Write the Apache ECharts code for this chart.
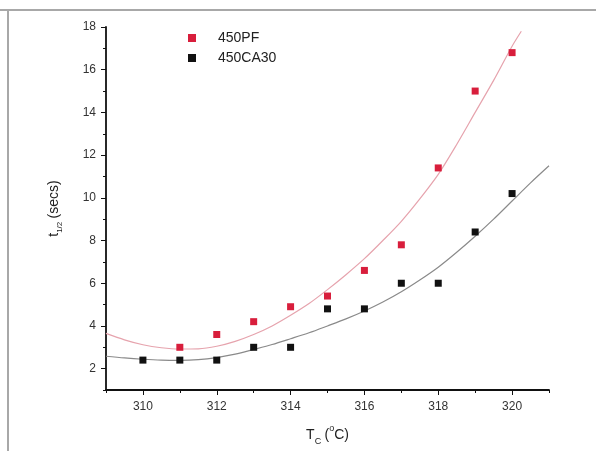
<!DOCTYPE html>
<html>
<head>
<meta charset="utf-8">
<script src="https://cdn.jsdelivr.net/npm/echarts@6/dist/echarts.min.js"></script>
<style>
html,body{margin:0;padding:0;background:#fff;}
#chart{width:596px;height:451px;}
</style>
</head>
<body>
<div id="chart"></div>
<script>
// Measured points
const pfX = [311, 312, 313, 314, 315, 316, 317, 318, 319, 320];
const pfY = [3.0, 3.6, 4.2, 4.9, 5.4, 6.6, 7.8, 11.4, 15.0, 16.8];
const caX = [310, 311, 312, 313, 314, 315, 316, 317, 318, 319, 320];
const caY = [2.4, 2.4, 2.4, 3.0, 3.0, 4.8, 4.8, 6.0, 6.0, 8.4, 10.2];

// Fitted curves
const pfFitX = [309, 309.5, 310, 310.5, 311, 311.5, 312, 312.5, 313, 313.5, 314, 314.5, 315, 315.5, 316, 316.5, 317, 317.5, 318, 318.5, 319, 319.5, 320, 320.25];
const pfFitY = [3.65, 3.35, 3.12, 2.98, 2.92, 2.93, 3.05, 3.28, 3.6, 4.0, 4.5, 5.05, 5.7, 6.4, 7.15, 8.0, 8.9, 9.95, 11.1, 12.5, 14.0, 15.5, 17.1, 17.8];
const caFitX = [309, 309.5, 310, 310.5, 311, 311.5, 312, 312.5, 313, 313.5, 314, 314.5, 315, 315.5, 316, 316.5, 317, 317.5, 318, 318.5, 319, 319.5, 320, 320.5, 321];
const caFitY = [2.58, 2.5, 2.44, 2.4, 2.39, 2.42, 2.52, 2.68, 2.9, 3.13, 3.4, 3.68, 4.0, 4.33, 4.7, 5.12, 5.6, 6.15, 6.75, 7.45, 8.2, 9.0, 9.85, 10.7, 11.5];

// Tick values
const xMajor = [310, 312, 314, 316, 318, 320];
const xMinor = [309, 311, 313, 315, 317, 319, 321];
const yMajor = [2, 4, 6, 8, 10, 12, 14, 16, 18];
const yMinor = [1, 3, 5, 7, 9, 11, 13, 15, 17];

const zip = (xs, ys) => xs.map((x, i) => [x, ys[i]]);
const FONT = 'Liberation Sans, Arial, sans-serif';
const axisCol = '#111';

const chart = echarts.init(document.getElementById('chart'), null, {renderer: 'canvas'});
chart.setOption({
  animation: false,
  backgroundColor: '#fff',
  textStyle: {fontFamily: FONT},
  grid: {left: 106, right: 47, top: 27, bottom: 60, containLabel: false},
  legend: {
    orient: 'vertical',
    left: 183, top: 26,
    itemWidth: 8, itemHeight: 8, itemGap: 6,
    icon: 'rect',
    data: ['450PF', '450CA30'],
    textStyle: {fontFamily: FONT, fontSize: 14, color: '#222', padding: [0, 0, 0, 17]}
  },
  xAxis: [{
    type: 'value', min: 309, max: 321, interval: 1,
    position: 'bottom',
    axisLine: {show: true, lineStyle: {color: axisCol, width: 1.8}},
    axisTick: {show: true, length: 5, customValues: xMajor, lineStyle: {color: axisCol}},
    axisLabel: {customValues: xMajor, fontSize: 12, color: '#333', margin: 11, fontFamily: FONT},
    splitLine: {show: false},
    name: '{n|T}{s|C} {n|(}{p|o}{n|C)}',
    nameLocation: 'middle', nameGap: 34,
    nameTextStyle: {rich: {
      n: {fontSize: 14, lineHeight: 22, color: '#222', fontFamily: FONT},
      s: {fontSize: 9, lineHeight: 9, color: '#222', fontFamily: FONT, verticalAlign: 'bottom'},
      p: {fontSize: 9, lineHeight: 9, color: '#222', fontFamily: FONT, verticalAlign: 'top'}
    }}
  }, {
    type: 'value', min: 309, max: 321, interval: 1,
    position: 'bottom',
    axisLine: {show: false},
    axisTick: {show: true, length: 3, customValues: xMinor, lineStyle: {color: axisCol}},
    axisLabel: {show: false},
    splitLine: {show: false}
  }],
  yAxis: [{
    type: 'value', min: 1, max: 18, interval: 1,
    position: 'left',
    axisLine: {show: true, lineStyle: {color: axisCol, width: 1.8}},
    axisTick: {show: true, length: 5, customValues: yMajor, lineStyle: {color: axisCol}},
    axisLabel: {customValues: yMajor, fontSize: 12, color: '#333', margin: 10, fontFamily: FONT},
    splitLine: {show: false},
    name: '{n|t}{s|1/2} {n|(secs)}',
    nameLocation: 'middle', nameGap: 42, nameRotate: 90,
    nameTextStyle: {rich: {
      n: {fontSize: 14, lineHeight: 20, color: '#222', fontFamily: FONT},
      s: {fontSize: 8, lineHeight: 8, color: '#222', fontFamily: FONT, verticalAlign: 'bottom'}
    }}
  }, {
    type: 'value', min: 1, max: 18, interval: 1,
    position: 'left',
    axisLine: {show: false},
    axisTick: {show: true, length: 3, customValues: yMinor, lineStyle: {color: axisCol}},
    axisLabel: {show: false},
    splitLine: {show: false}
  }],
  series: [
    {
      name: 'fitPF', type: 'line', data: zip(pfFitX, pfFitY), smooth: 0.3,
      showSymbol: false, symbol: 'none', silent: true,
      lineStyle: {color: '#e6a3ad', width: 1.2}, z: 1
    },
    {
      name: 'fitCA', type: 'line', data: zip(caFitX, caFitY), smooth: 0.3,
      showSymbol: false, symbol: 'none', silent: true,
      lineStyle: {color: '#8a8a8a', width: 1.2}, z: 1
    },
    {
      name: '450PF', type: 'scatter', data: zip(pfX, pfY),
      symbol: 'rect', symbolSize: 7,
      itemStyle: {color: '#d81e3c', opacity: 1}, z: 3
    },
    {
      name: '450CA30', type: 'scatter', data: zip(caX, caY),
      symbol: 'rect', symbolSize: 7,
      itemStyle: {color: '#111', opacity: 1}, z: 3
    }
  ],
  graphic: [
    {type: 'line', shape: {x1: 0, y1: 10, x2: 596, y2: 10}, style: {stroke: '#a8a8a8', lineWidth: 2}},
    {type: 'line', shape: {x1: 8, y1: 10, x2: 8, y2: 451}, style: {stroke: '#a8a8a8', lineWidth: 2}}
  ]
});
</script>
</body>
</html>
